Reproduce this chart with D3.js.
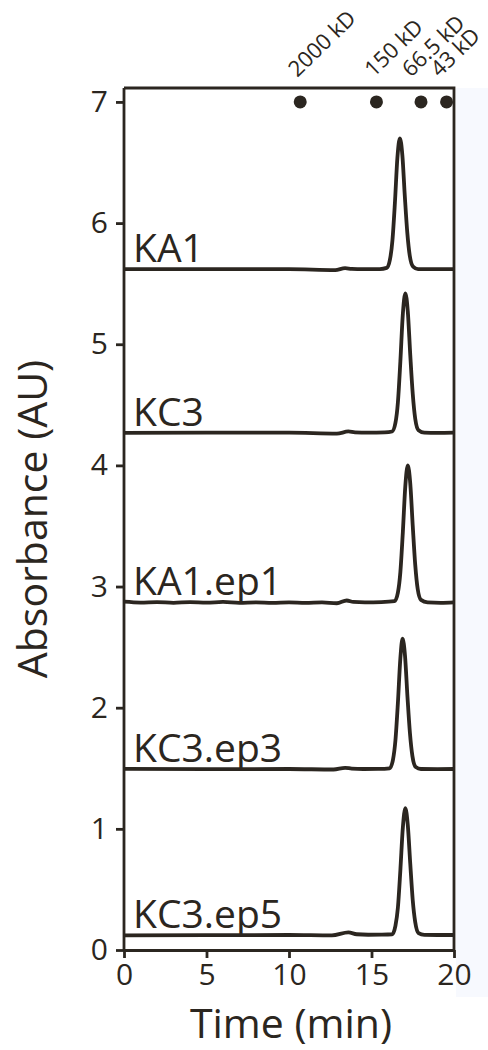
<!DOCTYPE html>
<html>
<head>
<meta charset="utf-8">
<script src="https://cdn.jsdelivr.net/npm/d3@7"></script>
<style>
  body { margin: 0; background: #fff; }
  svg { display: block; font-family: "Open Sans", sans-serif; }
</style>
</head>
<body>
<svg></svg>
<script>
// traces: [time (min), absorbance (AU)]
const traceNames = ["KA1", "KC3", "KA1.ep1", "KC3.ep3", "KC3.ep5"]

const ka1 = [[0,5.62],[5,5.62],[10,5.62],[12.8,5.612],[13.4,5.628],[13.8,5.622],[14.5,5.62],[15.5,5.62],
  [15.92,5.63],[16.12,5.70],[16.27,5.86],[16.42,6.17],[16.57,6.54],[16.72,6.70],[16.87,6.56],[17.02,6.22],
  [17.17,5.92],[17.32,5.73],[17.52,5.64],[17.82,5.62],[18.5,5.62],[20,5.62]]

const kc3 = [[0,4.268],[5,4.27],[10,4.27],[12.9,4.262],[13.6,4.28],[14.0,4.272],[14.8,4.27],[15.8,4.272],
  [16.25,4.28],[16.45,4.35],[16.6,4.52],[16.75,4.86],[16.9,5.25],[17.05,5.42],[17.2,5.27],[17.35,4.91],
  [17.5,4.59],[17.65,4.385],[17.85,4.29],[18.2,4.27],[19,4.268],[20,4.27]]

const ka1ep1 = [[0,2.875],[1,2.868],[2,2.872],[3,2.866],[4,2.871],[5,2.867],[6,2.873],[7,2.866],[8,2.87],
  [9,2.865],[10,2.87],[11,2.866],[12,2.869],[12.9,2.862],[13.5,2.885],[13.9,2.873],[14.6,2.87],[15.6,2.872],
  [16.4,2.88],[16.6,2.95],[16.75,3.12],[16.9,3.45],[17.05,3.83],[17.2,4.00],[17.35,3.85],[17.5,3.50],
  [17.65,3.18],[17.8,2.98],[18.0,2.89],[18.4,2.87],[19.2,2.866],[20,2.87]]

const kc3ep3 = [[0,1.495],[5,1.493],[10,1.494],[12.7,1.49],[13.4,1.504],[13.8,1.497],[14.5,1.494],[15.4,1.495],
  [16.1,1.50],[16.3,1.57],[16.45,1.73],[16.6,2.04],[16.75,2.41],[16.88,2.57],[17.03,2.43],[17.18,2.09],
  [17.33,1.79],[17.48,1.60],[17.68,1.51],[18.0,1.494],[19,1.493],[20,1.494]]

const kc3ep5 = [[0,0.12],[5,0.122],[10,0.124],[12.6,0.12],[13.6,0.145],[14.1,0.13],[14.8,0.126],[15.6,0.127],
  [16.25,0.13],[16.45,0.20],[16.6,0.35],[16.75,0.66],[16.9,1.01],[17.05,1.17],[17.2,1.03],[17.35,0.71],
  [17.5,0.41],[17.65,0.23],[17.85,0.14],[18.2,0.125],[19,0.124],[20,0.124]]

const traces = [ka1, kc3, ka1ep1, kc3ep3, kc3ep5]

// size standards
const markerTimes = [10.68, 15.3, 18.0, 19.55]
const markerLabels = ["2000 kD", "150 kD", "66.5 kD", "43 kD"]
const markerShift = [-3, -3, -10, -7]

const xTicks = [0, 5, 10, 15, 20]
const yTicks = [0, 1, 2, 3, 4, 5, 6, 7]

const width = 488, height = 1050
const ink = "#2b2620"

const svg = d3.select("svg")
    .attr("width", width)
    .attr("height", height)

const x = d3.scaleLinear().domain([0, 20]).range([124, 454])
const y = d3.scaleLinear().domain([0, 7.115]).range([950, 88])

// faint tint to the right of the frame
svg.append("rect")
    .attr("x", 456).attr("y", 88)
    .attr("width", 32).attr("height", 909)
    .attr("fill", "#f7f9fe")

const line = d3.line()
    .x(d => x(d[0]))
    .y(d => y(d[1]))
    .curve(d3.curveMonotoneX)

svg.selectAll("path.trace")
   .data(traces)
   .join("path")
   .attr("class", "trace")
   .attr("d", line)
   .attr("fill", "none")
   .attr("stroke", ink)
   .attr("stroke-width", 3.8)
   .attr("stroke-linejoin", "round")

svg.selectAll("text.name")
   .data(traces)
   .join("text")
   .attr("class", "name")
   .attr("x", x(0) + 9)
   .attr("y", d => y(d[0][1]) - 7)
   .attr("font-size", "39px")
   .attr("fill", ink)
   .text((d, i) => traceNames[i])

// frame top + right
svg.append("path")
   .attr("d", `M${x(0)},${y.range()[1]}H${x(20)}V${y(0)}`)
   .attr("fill", "none")
   .attr("stroke", ink)
   .attr("stroke-width", 2.8)

const xAxis = svg.append("g")
   .attr("transform", `translate(0,${y(0)})`)
   .call(d3.axisBottom(x).tickValues(xTicks).tickSize(8).tickSizeOuter(0).tickPadding(6))

const yAxis = svg.append("g")
   .attr("transform", `translate(${x(0)},0)`)
   .call(d3.axisLeft(y).tickValues(yTicks).tickSize(8).tickSizeOuter(0).tickPadding(8))

svg.selectAll(".domain, .tick line")
   .attr("stroke", ink)
   .attr("stroke-width", 2.8)

svg.selectAll(".tick text")
   .attr("fill", ink)
   .attr("font-family", "Open Sans")
   .attr("font-size", "30px")

yAxis.select(".domain").attr("d", `M0,${y.range()[1]}V${y(0)}`)

svg.selectAll("circle.marker")
   .data(markerTimes)
   .join("circle")
   .attr("class", "marker")
   .attr("cx", d => x(d))
   .attr("cy", y(7))
   .attr("r", 6.5)
   .attr("fill", ink)

svg.selectAll("text.marker")
   .data(markerTimes)
   .join("text")
   .attr("class", "marker")
   .attr("transform", (d, i) => `translate(${x(d) + markerShift[i]},${y(7) - 24}) rotate(-44)`)
   .attr("font-size", "22px")
   .attr("fill", ink)
   .text((d, i) => markerLabels[i])

svg.append("text")
   .attr("x", (x(0) + x(20)) / 2 + 2)
   .attr("y", 1038)
   .attr("text-anchor", "middle")
   .attr("font-size", "41px")
   .attr("fill", ink)
   .text("Time (min)")

svg.append("text")
   .attr("transform", `translate(47,${(y(0) + y.range()[1]) / 2}) rotate(-90)`)
   .attr("text-anchor", "middle")
   .attr("font-size", "41px")
   .attr("fill", ink)
   .text("Absorbance (AU)")
</script>
</body>
</html>
